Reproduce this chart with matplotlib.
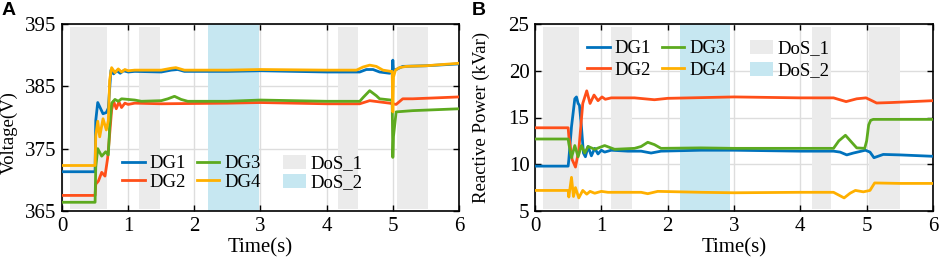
import matplotlib
matplotlib.use("Agg")
import matplotlib.pyplot as plt
from matplotlib.patches import Patch

# ---------------- data ----------------
# Panel A: voltage
tA1 = [0, 0.5, 0.51, 0.54, 0.58, 0.62, 0.67, 0.70, 0.74, 0.78, 0.83, 0.88, 0.93, 1.0, 1.1, 1.5, 1.65, 1.75, 1.85, 2.5, 3.0, 4.0, 4.5, 4.6, 4.7, 4.8, 4.95, 4.99, 5.0, 5.01, 5.05, 5.15, 5.5, 6.0]
vA1 = [371.3, 371.3, 379.5, 382.4, 381.5, 380.6, 380.8, 381.5, 387.6, 387.0, 387.5, 387.1, 387.5, 387.3, 387.4, 387.3, 387.6, 387.7, 387.4, 387.4, 387.5, 387.3, 387.3, 387.7, 387.7, 387.3, 387.1, 387.2, 389.2, 387.5, 387.7, 388.2, 388.3, 388.6]

tA2 = [0, 0.5, 0.51, 0.55, 0.6, 0.65, 0.69, 0.71, 0.75, 0.78, 0.82, 0.86, 0.9, 0.95, 1.0, 1.1, 1.5, 2.5, 3.0, 4.0, 4.5, 4.65, 4.8, 4.95, 5.05, 5.15, 5.3, 6.0]
vA2 = [367.5, 367.5, 369.3, 369.8, 371.2, 370.6, 373.5, 376.0, 381.2, 382.6, 381.4, 382.5, 381.6, 382.3, 382.1, 382.3, 382.2, 382.3, 382.4, 382.2, 382.2, 382.7, 382.5, 382.3, 382.1, 383.0, 383.0, 383.3]

tA3 = [0, 0.5, 0.51, 0.54, 0.6, 0.66, 0.70, 0.72, 0.75, 0.8, 0.85, 0.9, 1.0, 1.1, 1.2, 1.5, 1.6, 1.7, 1.8, 1.9, 2.5, 3.0, 4.0, 4.5, 4.55, 4.65, 4.75, 4.8, 4.97, 4.99, 5.0, 5.01, 5.05, 5.3, 6.0]
vA3 = [366.4, 366.4, 372.0, 375.0, 373.8, 374.5, 374.0, 378.5, 382.3, 382.9, 382.6, 383.0, 382.9, 382.8, 382.6, 382.7, 383.0, 383.4, 382.9, 382.6, 382.6, 382.8, 382.6, 382.6, 383.2, 384.3, 383.5, 383.0, 382.8, 382.8, 373.6, 377.0, 380.9, 381.1, 381.4]

tA4 = [0, 0.5, 0.51, 0.54, 0.57, 0.62, 0.67, 0.70, 0.72, 0.75, 0.80, 0.85, 0.90, 0.95, 1.0, 1.1, 1.5, 1.65, 1.72, 1.85, 2.5, 3.0, 4.0, 4.45, 4.55, 4.65, 4.75, 4.85, 4.97, 4.99, 5.0, 5.01, 5.04, 5.1, 5.2, 5.5, 6.0]
vA4 = [372.3, 372.3, 377.0, 379.4, 376.9, 379.8, 378.0, 379.5, 386.0, 388.0, 387.2, 387.8, 387.3, 387.7, 387.5, 387.6, 387.6, 387.9, 388.0, 387.6, 387.6, 387.7, 387.6, 387.6, 388.1, 388.4, 388.2, 387.6, 387.4, 387.4, 380.9, 386.5, 387.6, 388.0, 388.2, 388.3, 388.7]

# Panel B: reactive power
tB1 = [0, 0.5, 0.51, 0.55, 0.6, 0.625, 0.65, 0.67, 0.70, 0.73, 0.76, 0.8, 0.85, 0.9, 0.95, 1.0, 1.05, 1.15, 1.4, 1.6, 1.75, 1.9, 2.5, 3.0, 4.0, 4.5, 4.6, 4.7, 4.8, 4.98, 5.05, 5.11, 5.25, 5.5, 6.0]
vB1 = [9.8, 9.8, 10.5, 14.0, 17.0, 17.2, 16.5, 16.3, 14.0, 11.2, 10.8, 11.9, 10.9, 11.7, 11.1, 11.5, 11.3, 11.5, 11.4, 11.4, 11.2, 11.4, 11.5, 11.5, 11.4, 11.4, 11.3, 11.0, 11.2, 11.5, 11.3, 10.7, 11.05, 11.0, 10.85]

tB2 = [0, 0.5, 0.51, 0.56, 0.61, 0.66, 0.72, 0.78, 0.83, 0.89, 0.95, 1.01, 1.06, 1.15, 1.5, 1.8, 2.0, 3.0, 4.0, 4.5, 4.69, 4.85, 4.99, 5.05, 5.15, 5.37, 6.0]
vB2 = [13.9, 13.9, 13.0, 10.5, 9.7, 11.5, 16.5, 17.85, 16.5, 17.4, 16.8, 17.2, 16.95, 17.1, 17.1, 16.9, 17.05, 17.2, 17.1, 17.1, 16.7, 17.0, 17.1, 16.9, 16.55, 16.6, 16.8]

tB3 = [0, 0.5, 0.51, 0.55, 0.6, 0.65, 0.7, 0.75, 0.8, 0.9, 1.05, 1.2, 1.5, 1.6, 1.7, 1.8, 1.9, 2.5, 3.0, 4.0, 4.5, 4.58, 4.68, 4.78, 4.85, 4.97, 5.0, 5.03, 5.06, 5.1, 6.0]
vB3 = [12.7, 12.7, 12.2, 10.7, 12.0, 10.8, 12.0, 11.2, 11.9, 11.6, 12.0, 11.6, 11.7, 11.9, 12.35, 12.1, 11.7, 11.75, 11.7, 11.7, 11.7, 12.5, 13.1, 12.3, 11.75, 11.7, 12.5, 14.2, 14.7, 14.8, 14.8]

tB4 = [0, 0.5, 0.51, 0.55, 0.58, 0.61, 0.66, 0.72, 0.78, 0.83, 0.9, 1.0, 1.1, 1.6, 1.7, 1.85, 2.5, 3.0, 4.0, 4.5, 4.66, 4.75, 4.83, 4.95, 5.05, 5.12, 5.5, 6.0]
vB4 = [7.2, 7.2, 6.5, 8.6, 6.55, 7.5, 6.4, 7.2, 6.8, 7.1, 6.9, 7.1, 7.0, 7.0, 6.85, 7.1, 7.0, 6.95, 7.0, 7.0, 6.4, 6.9, 7.2, 7.05, 7.2, 8.0, 7.95, 7.95]

dos1_A = [(0.12, 0.68), (1.17, 1.48), (4.17, 4.48), (5.06, 5.53)]
dos2_A = [(2.21, 2.98)]
dos1_B = [(0.12, 0.67), (1.14, 1.46), (4.18, 4.46), (5.04, 5.5)]
dos2_B = [(2.18, 2.94)]

labels = ["DG1", "DG2", "DG3", "DG4"]
colors = ["#0072BD", "#FF4F19", "#5DAA1F", "#FFB000"]
gray_c = "#EBEBEB"
blue_c = "#C6E7F1"

plt.rcParams['font.family'] = ['Liberation Serif', 'DejaVu Serif']

fig = plt.figure(figsize=(9.41, 2.64), dpi=100)
axA = fig.add_axes([62/941, 1-211/264, 397/941, 187/264])
axB = fig.add_axes([535/941, 1-211/264, 398/941, 187/264])

def setup(ax, ylim, yticks, dos1, dos2, series, ylabel, ylab_x, ylab_y):
    ax.set_xlim(0, 6)
    ax.set_ylim(*ylim)
    ax.set_xticks(range(0, 7))
    ax.set_yticks(yticks)
    ax.grid(True, color="#DDDDDD", linewidth=1.0, zorder=0)
    ax.set_axisbelow(True)
    for a, b in dos1:
        ax.axvspan(a, b, ymin=0.012, ymax=0.985, color=gray_c, zorder=1, lw=0)
    for a, b in dos2:
        ax.axvspan(a, b, color=blue_c, zorder=1, lw=0)
    for (t, v), lab, c in zip(series, labels, colors):
        ax.plot(t, v, color=c, lw=2.0, label=lab, zorder=3)
    ax.tick_params(direction='in', top=True, right=True, labelsize=15,
                   length=4, width=1.0, pad=4)
    for s in ax.spines.values():
        s.set_linewidth(1.2)
    ax.set_xlabel("Time(s)", fontsize=15, labelpad=2)
    ax.set_ylabel(ylabel, fontsize=13.5)
    ax.yaxis.set_label_coords(ylab_x, ylab_y)

setup(axA, (365, 395), [365, 375, 385, 395], dos1_A, dos2_A,
      [(tA1, vA1), (tA2, vA2), (tA3, vA3), (tA4, vA4)], "Voltage(V)", -0.112, 0.42)
setup(axB, (5, 25), [5, 10, 15, 20, 25], dos1_B, dos2_B,
      [(tB1, vB1), (tB2, vB2), (tB3, vB3), (tB4, vB4)], "Reactive Power (kVar)", -0.112, 0.5)

def legends(ax, lx, ly, px, py, ls):
    h, l = ax.get_legend_handles_labels()
    fig.legend(h, l, ncol=2,
               loc='upper left', bbox_to_anchor=(lx/941, 1-ly/264),
               frameon=False, fontsize=13.5, handlelength=1.2,
               handletextpad=0.25, columnspacing=0.6, labelspacing=ls,
               borderpad=0, borderaxespad=0)
    ph = [Patch(color=gray_c, lw=0), Patch(color=blue_c, lw=0)]
    fig.legend(ph, ["DoS_1", "DoS_2"], loc='upper left',
               bbox_to_anchor=(px/941, 1-py/264), frameon=False,
               fontsize=13.5, handlelength=1.25, handleheight=0.75,
               handletextpad=0.2, labelspacing=ls,
               borderpad=0, borderaxespad=0)

legends(axA, 122, 155, 283, 155, 0.08)
legends(axB, 587, 40, 750, 40, 0.25)

fig.text(2/941, 1-2/264, "A", fontsize=14, fontweight='bold',
         family=['Liberation Sans', 'DejaVu Sans'], va='top', ha='left')
fig.text(472/941, 1-2/264, "B", fontsize=14, fontweight='bold',
         family=['Liberation Sans', 'DejaVu Sans'], va='top', ha='left')

fig.savefig("out.png", dpi=100)
